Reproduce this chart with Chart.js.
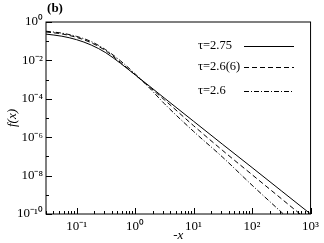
<!DOCTYPE html>
<html>
<head>
<meta charset="utf-8">
<script src="https://cdn.jsdelivr.net/npm/chart.js@4.4.0/dist/chart.umd.min.js"></script>
<style>
  body { margin: 0; background: #fff; }
  #wrap { width: 324px; height: 243px; }
</style>
</head>
<body>
<div id="wrap"><canvas id="myChart"></canvas></div>
<script>
// data
const xValues = [0.03, 0.056, 0.1, 0.178, 0.316, 0.562, 1, 1.78, 3.16, 10, 31.6, 100, 316, 1000];
const tau275 = [0.234, 0.182, 0.120, 0.0631, 0.0251, 0.00708, 0.00178, 4.47e-4, 1.10e-4, 6.76e-6, 4.17e-7, 2.63e-8, 1.62e-9, 1.0e-10];
const tau266 = [0.302, 0.240, 0.158, 0.0832, 0.0316, 0.00794, 0.00178, 3.98e-4, 8.91e-5, 3.98e-6, 2.0e-7, 1.12e-8, 6.31e-10, 3.55e-11];
const tau26 = [0.331, 0.263, 0.178, 0.0955, 0.0355, 0.00955, 0.0020, 3.55e-4, 5.62e-5, 2.0e-6, 8.91e-8, 3.16e-9, 1.26e-10, 5.0e-12];
const seriesLabels = ['τ=2.75', 'τ=2.6(6)', 'τ=2.6'];
const xTicks = [0.1, 1, 10, 100, 1000];
const xTickLabels = ['10⁻¹', '10⁰', '10¹', '10²', '10³'];
const yTicks = [1, 1e-2, 1e-4, 1e-6, 1e-8, 1e-10];
const yTickLabels = ['10⁰', '10⁻²', '10⁻⁴', '10⁻⁶', '10⁻⁸', '10⁻¹⁰'];

const serif = "'Liberation Serif', 'Times New Roman', serif";

function pts(ys) {
  return xValues.map((x, i) => ({ x: x, y: ys[i] }));
}

// box, inward ticks, legend and panel letter
const frame = {
  id: 'frame',
  afterDraw(chart) {
    const c = chart.ctx, a = chart.chartArea;
    const sx = chart.scales.x, sy = chart.scales.y;
    c.save();
    c.strokeStyle = '#000';
    c.lineWidth = 1;
    c.strokeRect(a.left, a.top, a.right - a.left, a.bottom - a.top);

    c.beginPath();
    for (let d = -2; d <= 3; d++) {
      for (let k = 1; k <= 9; k++) {
        const v = k * Math.pow(10, d);
        if (v < sx.min || v > sx.max) continue;
        const px = Math.round(sx.getPixelForValue(v)) + 0.5;
        const len = k === 1 ? 6 : 3;
        c.moveTo(px, a.bottom);
        c.lineTo(px, a.bottom - len);
      }
    }
    for (let d = -10; d <= 0; d++) {
      const py = Math.round(sy.getPixelForValue(Math.pow(10, d))) + 0.5;
      const len = d % 2 === 0 ? 6 : 3;
      c.moveTo(a.left, py);
      c.lineTo(a.left + len, py);
    }
    c.stroke();

    // legend
    const rows = [46, 67, 91];
    c.font = '12.5px ' + serif;
    c.fillStyle = '#000';
    c.textBaseline = 'middle';
    chart.data.datasets.forEach((ds, i) => {
      c.fillText(ds.label, 198, rows[i]);
      c.beginPath();
      c.setLineDash(ds.borderDash || []);
      c.moveTo(244, rows[i] + 0.5);
      c.lineTo(294, rows[i] + 0.5);
      c.stroke();
    });
    c.setLineDash([]);

    c.font = 'bold 13px ' + serif;
    c.textAlign = 'center';
    c.fillText('(b)', 55, 9);
    c.restore();
  }
};

const ctx = document.getElementById('myChart');
new Chart(ctx, {
  type: 'line',
  data: {
    datasets: [
      { label: seriesLabels[0], data: pts(tau275), borderDash: [] },
      { label: seriesLabels[1], data: pts(tau266), borderDash: [5, 3] },
      { label: seriesLabels[2], data: pts(tau26), borderDash: [5, 2, 1, 2] }
    ].map(ds => Object.assign(ds, {
      borderColor: '#000',
      borderWidth: 1,
      pointRadius: 0,
      fill: false,
      cubicInterpolationMode: 'monotone'
    }))
  },
  options: {
    responsive: true,
    maintainAspectRatio: false,
    animation: false,
    layout: { padding: { top: 22, right: 9, left: 5, bottom: 0 } },
    plugins: { legend: { display: false }, tooltip: { enabled: false } },
    scales: {
      x: {
        type: 'logarithmic',
        min: 0.03,
        max: 1000,
        afterBuildTicks: s => { s.ticks = xTicks.map(v => ({ value: v })); },
        afterFit: s => { s.height = 29; },
        ticks: {
          callback: (v) => xTickLabels[xTicks.indexOf(v)],
          color: '#000',
          font: { family: serif, size: 13 },
          padding: 5,
          maxRotation: 0,
          autoSkip: false
        },
        grid: { display: false, drawTicks: false },
        border: { display: false },
        title: { display: true, text: '-x', color: '#000', font: { family: serif, size: 13, style: 'italic' }, padding: 0 }
      },
      y: {
        type: 'logarithmic',
        min: 1e-10,
        max: 1,
        afterBuildTicks: s => { s.ticks = yTicks.map(v => ({ value: v })); },
        afterFit: s => { s.width = 41; },
        ticks: {
          callback: (v) => yTickLabels[yTicks.indexOf(v)],
          color: '#000',
          font: { family: serif, size: 13 },
          padding: 3,
          autoSkip: false
        },
        grid: { display: false, drawTicks: false },
        border: { display: false },
        title: { display: true, text: 'f(x)', color: '#000', font: { family: serif, size: 13, style: 'italic' }, padding: 0 }
      }
    }
  },
  plugins: [frame]
});
</script>
</body>
</html>
